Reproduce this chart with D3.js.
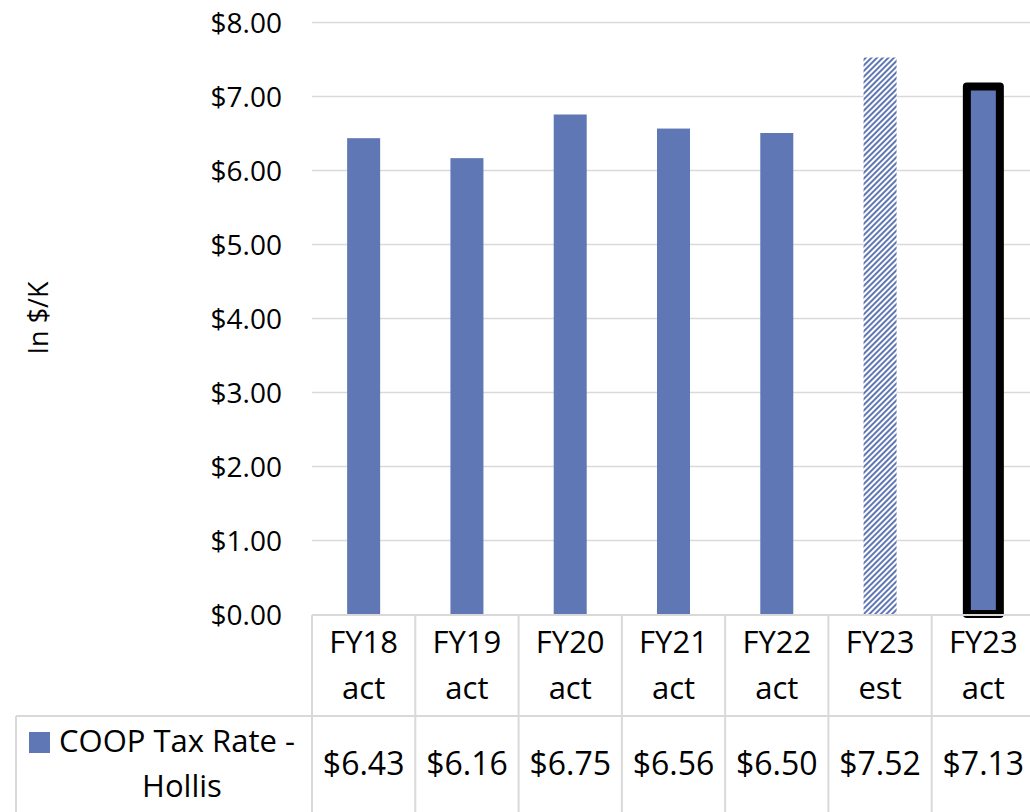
<!DOCTYPE html>
<html>
<head>
<meta charset="utf-8">
<script src="https://cdn.jsdelivr.net/npm/d3@7"></script>
<style>
  body { margin: 0; background: #fff; }
  text { font-family: "Open Sans", sans-serif; fill: #000; }
</style>
</head>
<body>
<script>
// data
var categories = ['FY18 act', 'FY19 act', 'FY20 act', 'FY21 act', 'FY22 act', 'FY23 est', 'FY23 act'];
var rates = [6.43, 6.16, 6.75, 6.56, 6.50, 7.52, 7.13];
var seriesName = ['COOP Tax Rate -', 'Hollis'];
var yTicks = [0, 1, 2, 3, 4, 5, 6, 7, 8];

var width = 1030, height = 812;
var barColor = '#6077b5', gridColor = '#d9d9d9';

var svg = d3.select('body').append('svg')
    .attr('width', width)
    .attr('height', height);

// hatch for the estimate bar
var defs = svg.append('defs');
defs.append('pattern')
    .attr('id', 'hatch')
    .attr('patternUnits', 'userSpaceOnUse')
    .attr('width', 4)
    .attr('height', 4)
    .attr('patternTransform', 'rotate(45)')
    .call(p => {
        p.append('rect').attr('width', 4).attr('height', 4).attr('fill', '#fff');
        p.append('rect').attr('width', 2).attr('height', 4).attr('fill', barColor);
    });

//scales
var xScale = d3.scaleBand()
    .domain(categories)
    .range([312, 1035])
    .paddingInner(0)
    .paddingOuter(0);

var yScale = d3.scaleLinear()
    .domain([0, 8])
    .range([614, 22]);

//grid + y axis
var yAxis = svg.append('g')
    .attr('transform', 'translate(312,0)')
    .call(d3.axisLeft(yScale)
        .tickValues(yTicks)
        .tickFormat(d3.format('$.2f'))
        .tickSize(-(width - 312))
        .tickPadding(30));
yAxis.select('.domain').remove();
yAxis.selectAll('.tick line')
    .attr('stroke', gridColor)
    .attr('stroke-width', 1.5)
    .filter(d => d === 0).remove();
yAxis.selectAll('.tick text')
    .style('font-size', '28px')
    .style('font-family', '"Open Sans", sans-serif')
    .attr('dy', '0.36em');

svg.append('text')
    .text('In $/K')
    .attr('transform', 'translate(48,318) rotate(-90)')
    .attr('text-anchor', 'middle')
    .style('font-size', '27px');

//bars
var bw = 33;
svg.selectAll('rect.bar')
    .data(categories)
    .enter().append('rect')
    .attr('class', 'bar')
    .attr('x', d => xScale(d) + xScale.bandwidth() / 2 - bw / 2)
    .attr('width', bw)
    .attr('y', (d, i) => yScale(rates[i]))
    .attr('height', (d, i) => yScale(0) - yScale(rates[i]))
    .attr('fill', (d, i) => d === 'FY23 est' ? 'url(#hatch)' : barColor)
    .attr('stroke', (d, i) => i === categories.length - 1 ? '#000' : 'none')
    .attr('stroke-width', 8)
    .attr('stroke-linejoin', 'round');

//table lines
var tbl = svg.append('g')
    .attr('stroke', gridColor)
    .attr('stroke-width', 2);
tbl.append('line').attr('x1', 312).attr('x2', width).attr('y1', 615).attr('y2', 615);
tbl.append('line').attr('x1', 16).attr('x2', width).attr('y1', 716).attr('y2', 716);
tbl.append('line').attr('x1', 16).attr('x2', 16).attr('y1', 716).attr('y2', height);
tbl.selectAll('line.col')
    .data(categories)
    .enter().append('line')
    .attr('class', 'col')
    .attr('x1', d => xScale(d)).attr('x2', d => xScale(d))
    .attr('y1', 615).attr('y2', height);

//category labels
var cat = svg.selectAll('text.cat')
    .data(categories)
    .enter().append('text')
    .attr('class', 'cat')
    .attr('text-anchor', 'middle')
    .style('font-size', '31px');
cat.append('tspan')
    .attr('x', d => xScale(d) + xScale.bandwidth() / 2)
    .attr('y', 653)
    .text(d => d.split(' ')[0]);
cat.append('tspan')
    .attr('x', d => xScale(d) + xScale.bandwidth() / 2)
    .attr('y', 699)
    .text(d => d.split(' ')[1]);

//values row
svg.selectAll('text.val')
    .data(categories)
    .enter().append('text')
    .attr('class', 'val')
    .attr('text-anchor', 'middle')
    .attr('x', d => xScale(d) + xScale.bandwidth() / 2)
    .attr('y', 775)
    .style('font-size', '32px')
    .text((d, i) => d3.format('$.2f')(rates[i]));

//legend
svg.append('rect')
    .attr('x', 29).attr('y', 732)
    .attr('width', 21).attr('height', 21)
    .attr('fill', barColor);
svg.append('text')
    .text(seriesName[0])
    .attr('x', 59).attr('y', 752)
    .style('font-size', '31px');
svg.append('text')
    .text(seriesName[1])
    .attr('x', 182).attr('y', 797)
    .attr('text-anchor', 'middle')
    .style('font-size', '31px');
</script>
</body>
</html>
